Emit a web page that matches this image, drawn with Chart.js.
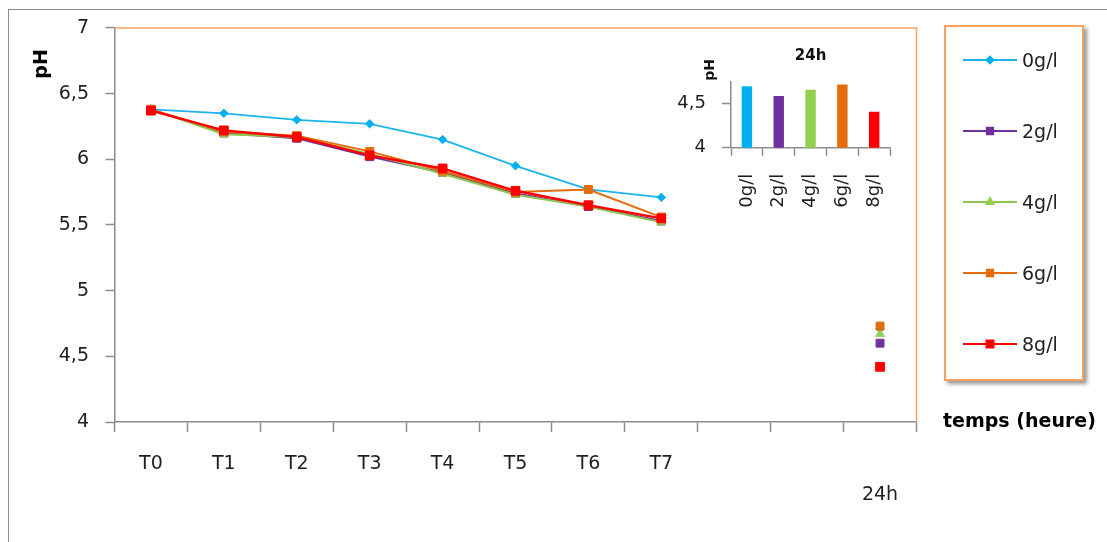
<!DOCTYPE html>
<html>
<head>
<meta charset="utf-8">
<title>pH</title>
<script src="https://cdn.jsdelivr.net/npm/chart.js@4.4.1/dist/chart.umd.min.js"></script>
<style>
  html, body { margin: 0; padding: 0; background: #fff; }
  #wrap { position: relative; width: 1107px; height: 542px; overflow: hidden; background: #fff; }
  #frame { position: absolute; left: 8px; top: 9px; width: 1300px; height: 700px;
           border-left: 1.5px solid #8c8c8c; border-top: 1.5px solid #8c8c8c; }
  #main { position: absolute; left: 0; top: 0; }
  #inset { position: absolute; left: 650px; top: 30px; }
  #legend { position: absolute; left: 944px; top: 25px; width: 136px; height: 352px;
            border: 2px solid #F8A25E; background: #fff;
            box-shadow: 3px 3px 4px rgba(0,0,0,0.42); }
  .item { position: absolute; left: 17px; height: 24px; display: flex; align-items: center;
          font: 19px "DejaVu Sans", sans-serif; color: #222; white-space: nowrap; }
  .item canvas { margin-right: 5px; }
</style>
</head>
<body>
<div id="wrap">
  <div id="frame"></div>
  <canvas id="main" width="1107" height="542"></canvas>
  <canvas id="inset" width="265" height="200"></canvas>
  <div id="legend"></div>
</div>
<script>
// Sampling times and tick labels
const timeLabels = ['T0', 'T1', 'T2', 'T3', 'T4', 'T5', 'T6', 'T7', '', '', ['', '24h']];
const concentrations = ['0g/l', '2g/l', '4g/l', '6g/l', '8g/l'];

// pH measured from T0 to T7, one list per salt concentration
const ph0 = [6.38, 6.35, 6.30, 6.27, 6.15, 5.95, 5.77, 5.71];
const ph2 = [6.38, 6.20, 6.16, 6.02, 5.90, 5.74, 5.64, 5.53];
const ph4 = [6.38, 6.19, 6.17, 6.04, 5.89, 5.73, 5.64, 5.52];
const ph6 = [6.38, 6.21, 6.18, 6.06, 5.91, 5.75, 5.77, 5.56];
const ph8 = [6.37, 6.22, 6.17, 6.03, 5.93, 5.76, 5.65, 5.55];

// pH after 24 h (0, 2, 4, 6, 8 g/l)
const ph24h = [4.71, 4.60, 4.67, 4.73, 4.42];

// Axis ticks
const phTicks = [4, 4.5, 5, 5.5, 6, 6.5, 7];
const insetTicks = [4, 4.5];

const seriesColors = ['#00B0F0', '#7030A0', '#92D050', '#E46C0A', '#FF0000'];
const lineColors   = ['#1DB4EE', '#7030A0', '#8FC54F', '#E46C0A', '#FF0000'];
const pointStyles  = ['rectRot', 'rect', 'triangle', 'rect', 'rect'];
const pointRadii   = [4.2, 5.6, 5, 5.6, 6.2];
const lineWidths   = [1.8, 2, 2, 2, 2.4];

const FONT = '"DejaVu Sans", sans-serif';
const AXIS_GREY = '#8c8c8c';
const TEXT = '#1e1e1e';
const fmt = v => String(v).replace('.', ',');

const allSeries = [ph0, ph2, ph4, ph6, ph8];

// Two empty slots separate T7 from the 24 h reading
const datasets = allSeries.map((s, i) => ({
  label: concentrations[i],
  data: s.concat([null, null, ph24h[i]]),
  borderColor: lineColors[i],
  backgroundColor: seriesColors[i],
  pointBackgroundColor: seriesColors[i],
  pointBorderColor: seriesColors[i],
  pointBorderWidth: 1,
  pointStyle: pointStyles[i],
  pointRadius: pointRadii[i],
  borderWidth: lineWidths[i],
  tension: 0,
  spanGaps: false,
  order: allSeries.length - i
}));

// Orange border on the top and right of the plot area
const plotFrame = {
  id: 'plotFrame',
  beforeDatasetsDraw(chart) {
    const { ctx, chartArea: a } = chart;
    ctx.save();
    ctx.strokeStyle = '#F8A25E';
    ctx.lineWidth = 1.5;
    ctx.beginPath();
    ctx.moveTo(a.left + 1, a.top);
    ctx.lineTo(a.right, a.top);
    ctx.lineTo(a.right, a.bottom);
    ctx.stroke();
    ctx.restore();
  }
};

// Axis titles: pH (rotated, top left) and temps (heure) (right of the x axis)
const mainTitles = {
  id: 'mainTitles',
  afterDraw(chart) {
    const { ctx, chartArea: a } = chart;
    ctx.save();
    ctx.fillStyle = '#000';
    ctx.font = 'bold 19px ' + FONT;
    ctx.textBaseline = 'middle';
    ctx.textAlign = 'left';
    ctx.fillText('temps (heure)', a.right + 26.5, a.bottom);
    ctx.translate(a.left - 72.5, a.top + 36);
    ctx.rotate(-Math.PI / 2);
    ctx.textAlign = 'center';
    ctx.fillText('pH', 0, 0);
    ctx.restore();
  }
};

new Chart(document.getElementById('main'), {
  type: 'line',
  data: { labels: timeLabels, datasets },
  plugins: [plotFrame, mainTitles],
  options: {
    responsive: false,
    animation: false,
    devicePixelRatio: 1,
    layout: { padding: { left: 0, top: 26, right: 190.5, bottom: 0 } },
    plugins: { legend: { display: false }, tooltip: { enabled: false } },
    scales: {
      x: {
        type: 'category',
        offset: true,
        grid: { offset: true, drawOnChartArea: false, drawTicks: true, tickLength: 10,
                tickColor: AXIS_GREY, tickWidth: 1.5 },
        border: { color: AXIS_GREY, width: 1.5 },
        ticks: { autoSkip: false, maxRotation: 0, minRotation: 0, padding: 17, color: TEXT,
                 font: { family: FONT, size: 19, lineHeight: 1.63 } },
        afterFit: s => { s.height = 120; }
      },
      y: {
        min: phTicks[0],
        max: phTicks[phTicks.length - 1],
        afterBuildTicks: s => { s.ticks = phTicks.map(v => ({ value: v })); },
        grid: { drawOnChartArea: false, drawTicks: true, tickLength: 9,
                tickColor: AXIS_GREY, tickWidth: 1.5 },
        border: { color: AXIS_GREY, width: 1.5 },
        ticks: { padding: 16.5, color: TEXT, font: { family: FONT, size: 19 },
                 callback: v => fmt(v) },
        afterFit: s => { s.width = 114.5; }
      }
    }
  }
});

// Inset: pH at 24 h per concentration
const insetTitles = {
  id: 'insetTitles',
  afterDraw(chart) {
    const { ctx, chartArea: a } = chart;
    ctx.save();
    ctx.fillStyle = '#111';
    ctx.textAlign = 'center';
    ctx.textBaseline = 'middle';
    ctx.font = 'bold 15px ' + FONT;
    ctx.fillText('24h', (a.left + a.right) / 2, a.top - 25.7);
    ctx.font = 'bold 14px ' + FONT;
    ctx.translate(a.left - 21, a.top - 11.7);
    ctx.rotate(-Math.PI / 2);
    ctx.fillText('pH', 0, 0);
    ctx.restore();
  }
};

new Chart(document.getElementById('inset'), {
  type: 'bar',
  data: {
    labels: concentrations,
    datasets: [{
      data: ph24h,
      backgroundColor: seriesColors,
      borderColor: 'rgba(255,255,255,0.55)',
      borderWidth: 1,
      barPercentage: 0.39,
      categoryPercentage: 1
    }]
  },
  plugins: [insetTitles],
  options: {
    responsive: false,
    animation: false,
    devicePixelRatio: 1,
    layout: { padding: { left: 0, top: 51.7, right: 12, bottom: 0 } },
    plugins: { legend: { display: false }, tooltip: { enabled: false } },
    scales: {
      x: {
        grid: { offset: true, drawOnChartArea: false, drawTicks: true, tickLength: 8,
                tickColor: AXIS_GREY, tickWidth: 1.5 },
        border: { color: AXIS_GREY, width: 1.5 },
        ticks: { autoSkip: false, minRotation: 90, maxRotation: 90, padding: 18, color: TEXT,
                 font: { family: FONT, size: 18 } },
        afterFit: s => { s.height = 82.3; }
      },
      y: {
        min: 4,
        max: 4.75,
        afterBuildTicks: s => { s.ticks = insetTicks.map(v => ({ value: v })); },
        grid: { drawOnChartArea: false, drawTicks: true, tickLength: 9,
                tickColor: AXIS_GREY, tickWidth: 1.5 },
        border: { color: AXIS_GREY, width: 1.5 },
        ticks: { padding: 16, color: TEXT, font: { family: FONT, size: 18 },
                 callback: v => fmt(v) },
        afterFit: s => { s.width = 81; }
      }
    }
  }
});

// Legend: line sample with marker, then the series name
const legend = document.getElementById('legend');
datasets.forEach((ds, i) => {
  const item = document.createElement('div');
  item.className = 'item';
  item.style.top = (21 + i * 71) + 'px';
  const c = document.createElement('canvas');
  c.width = 54; c.height = 16;
  const g = c.getContext('2d');
  g.strokeStyle = ds.borderColor;
  g.lineWidth = 2;
  g.beginPath(); g.moveTo(0, 8); g.lineTo(54, 8); g.stroke();
  g.fillStyle = ds.pointBackgroundColor;
  g.strokeStyle = ds.pointBorderColor;
  Chart.helpers.drawPoint(g, { pointStyle: ds.pointStyle, radius: ds.pointRadius * 0.8,
                               rotation: 0, borderWidth: 1 }, 27, 8);
  item.appendChild(c);
  const t = document.createElement('span');
  t.textContent = ds.label;
  item.appendChild(t);
  legend.appendChild(item);
});
</script>
</body>
</html>
